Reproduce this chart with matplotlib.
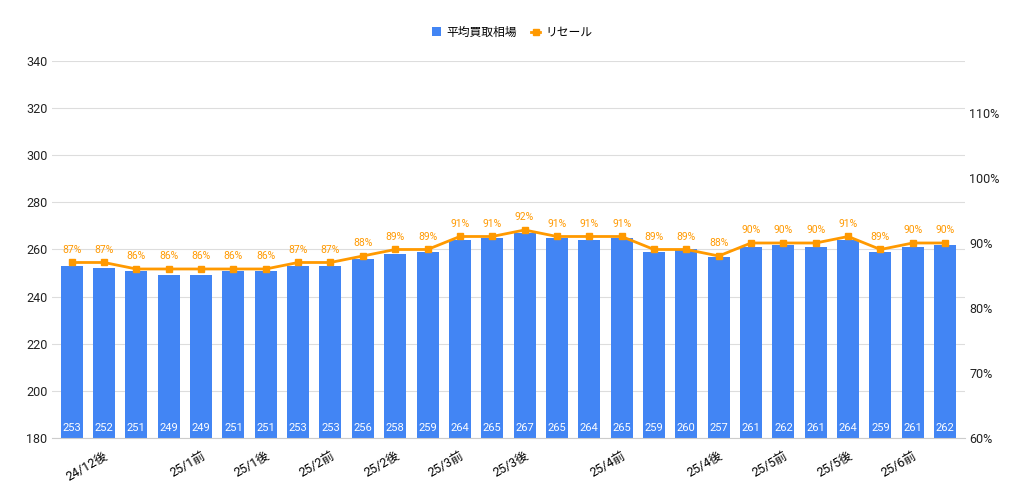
import matplotlib
matplotlib.use("Agg")
import matplotlib.pyplot as plt
from matplotlib.ticker import FuncFormatter

plt.rcParams["font.family"] = ["Roboto", "Noto Sans CJK JP"]

prices = [253,252,251,249,249,251,251,253,253,256,258,259,264,265,267,265,264,265,259,260,257,261,262,261,264,259,261,262]
resale = [87,87,86,86,86,86,86,87,87,88,89,89,91,91,92,91,91,91,89,89,88,90,90,90,91,89,90,90]
tick_idx = [1,4,6,8,10,12,14,17,20,22,24,26]
tick_labels = ["24/12後","25/1前","25/1後","25/2前","25/2後","25/3前","25/3後","25/4前","25/4後","25/5前","25/5後","25/6前"]

blue = "#4285f4"
orange = "#ff9900"
x = list(range(len(prices)))

fig = plt.figure(figsize=(10.24, 4.96), dpi=100)
ax = fig.add_axes([0.051, 0.117, 0.891, 0.76])
ax.bar(x, prices, width=0.68, color=blue, label="平均買取相場", zorder=2)
ax.set_ylim(180, 340)
ax.set_yticks(range(180, 341, 20))
ax.set_xlim(-0.6, len(prices) - 0.4)
ax.grid(axis="y", color="#dddddd", linewidth=0.8, zorder=0)
ax.set_axisbelow(True)
for s in ["top", "right", "left"]:
    ax.spines[s].set_visible(False)
ax.spines["bottom"].set_color("#cccccc")
ax.tick_params(axis="y", length=0, labelsize=9, colors="#222222")
ax.set_xticks(tick_idx)
ax.set_xticklabels(tick_labels, rotation=30, ha="right", rotation_mode="anchor", fontsize=9)
ax.tick_params(axis="x", length=0, pad=8)
for i, v in enumerate(prices):
    ax.text(i, 182, str(v), ha="center", va="bottom", color="white", fontsize=8, zorder=3)

ax2 = ax.twinx()
ax2.plot(x, resale, color=orange, linewidth=2, marker="s", markersize=5, label="リセール", zorder=4)
ax2.set_ylim(60, 118)
ax2.set_yticks(range(60, 111, 10))
ax2.yaxis.set_major_formatter(FuncFormatter(lambda v, p: f"{int(v)}%"))
ax2.tick_params(axis="y", length=0, labelsize=9, colors="#222222")
for s in ["top", "right", "left", "bottom"]:
    ax2.spines[s].set_visible(False)
for i, v in enumerate(resale):
    ax2.text(i, v + 1.2, f"{v}%", ha="center", va="bottom", color=orange, fontsize=7.5)

h1, l1 = ax.get_legend_handles_labels()
h2, l2 = ax2.get_legend_handles_labels()
fig.legend(h1 + h2, l1 + l2, loc="center", bbox_to_anchor=(0.5, 0.935), ncol=2,
           frameon=False, fontsize=8.5, handlelength=0.8, columnspacing=1.2, handletextpad=0.4)

fig.savefig("out.png", dpi=100, facecolor="white")
